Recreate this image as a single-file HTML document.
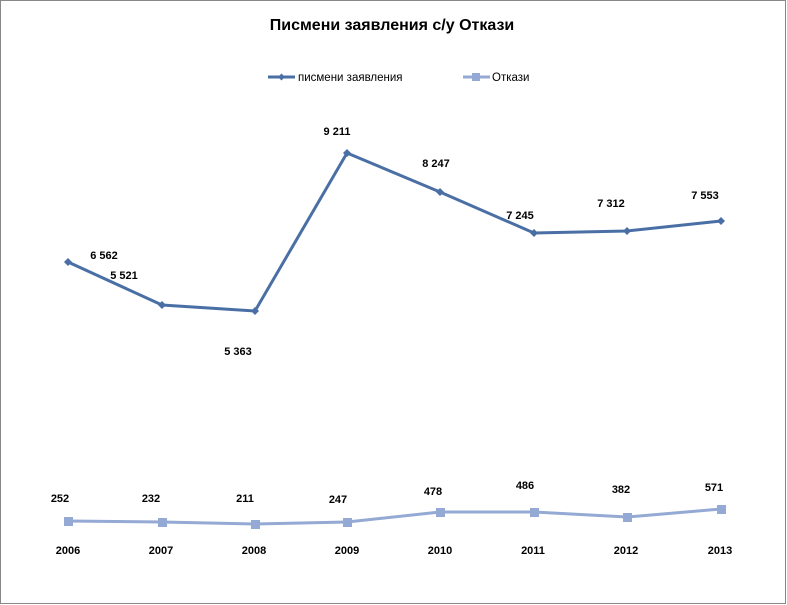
<!DOCTYPE html>
<html><head><meta charset="utf-8"><style>
body{margin:0;background:#fff;}
svg{display:block;font-family:"Liberation Sans",sans-serif;}
.l{font-size:11px;font-weight:bold;fill:#000;text-anchor:middle;}
</style></head><body>
<svg width="787" height="605" viewBox="0 0 787 605">
<rect x="0.5" y="0.5" width="785" height="603" fill="#fff" stroke="#888"/>
<text x="392" y="30" font-size="16" font-weight="bold" text-anchor="middle">Писмени заявления с/у Откази</text>
<line x1="268" y1="77" x2="295" y2="77" stroke="#4a6fa5" stroke-width="3"/>
<path d="M281.5 73.5L285 77L281.5 80.5L278 77Z" fill="#4a6fa5"/>
<text x="298" y="81" font-size="11.5">писмени заявления</text>
<line x1="463" y1="77" x2="490" y2="77" stroke="#94a9d3" stroke-width="3"/>
<rect x="472" y="73" width="8" height="8" fill="#94a9d3"/>
<text x="492" y="81" font-size="11.5">Откази</text>
<polyline fill="none" stroke="#4a6fa5" stroke-width="3" points="68,262 162,305 255,311 347,153 440,192 534,233 627,231 721,221"/>
<g fill="#4a6fa5">
<path d="M68 258L72 262L68 266L64 262Z"/><path d="M162 301L166 305L162 309L158 305Z"/><path d="M255 307L259 311L255 315L251 311Z"/><path d="M347 149L351 153L347 157L343 153Z"/><path d="M440 188L444 192L440 196L436 192Z"/><path d="M534 229L538 233L534 237L530 233Z"/><path d="M627 227L631 231L627 235L623 231Z"/><path d="M721 217L725 221L721 225L717 221Z"/>
</g>
<polyline fill="none" stroke="#94a9d3" stroke-width="3" points="68,521 162,522 255,524 347,522 440,512 534,512 627,517 721,509"/>
<g fill="#94a9d3">
<rect x="64" y="517" width="9" height="9"/><rect x="158" y="518" width="9" height="9"/><rect x="251" y="520" width="9" height="9"/><rect x="343" y="518" width="9" height="9"/><rect x="436" y="508" width="9" height="9"/><rect x="530" y="508" width="9" height="9"/><rect x="623" y="513" width="9" height="9"/><rect x="717" y="505" width="9" height="9"/>
</g>
<g class="l">
<text x="104" y="259">6 562</text><text x="124" y="279">5 521</text><text x="238" y="355">5 363</text><text x="337" y="135">9 211</text><text x="436" y="167">8 247</text><text x="520" y="219">7 245</text><text x="611" y="207">7 312</text><text x="705" y="199">7 553</text>
<text x="60" y="502">252</text><text x="151" y="502">232</text><text x="245" y="502">211</text><text x="338" y="503">247</text><text x="433" y="495">478</text><text x="525" y="489">486</text><text x="621" y="493">382</text><text x="714" y="491">571</text>
<text x="68" y="554">2006</text><text x="161" y="554">2007</text><text x="254" y="554">2008</text><text x="347" y="554">2009</text><text x="440" y="554">2010</text><text x="533" y="554">2011</text><text x="626" y="554">2012</text><text x="720" y="554">2013</text>
</g>
</svg>
</body></html>
